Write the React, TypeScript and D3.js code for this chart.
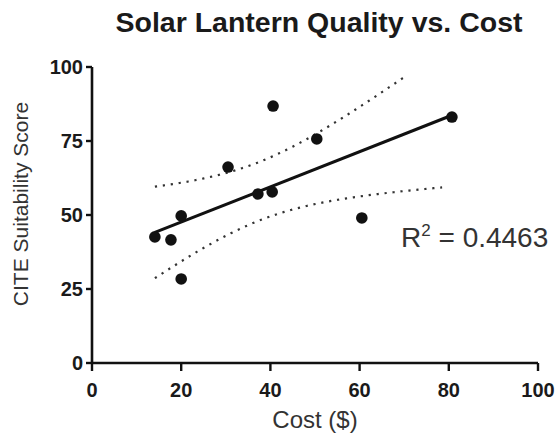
import React from "react";
import * as d3 from "d3";

// values
const cost = [14.1, 17.7, 20.0, 20.0, 30.5, 37.2, 40.4, 40.6, 50.4, 60.5, 80.7];
const score = [42.6, 41.6, 49.7, 28.4, 66.2, 57.1, 57.8, 86.8, 75.7, 49.0, 83.1];
const xTicks = [0, 20, 40, 60, 80, 100];
const yTicks = [0, 25, 50, 75, 100];
const r2Label = "0.4463";
// where each dotted confidence band stops in the picture
const upperBandEnd = 70.6;
const lowerBandEnd = 78.5;
const T_CRIT = 2.262; // t(0.975, df = 9)

const width = 558;
const height = 436;
const margin = { top: 67, right: 20, bottom: 73, left: 92 };
const font = "'Liberation Sans', Arial, sans-serif";

const App = () => {
  const x = d3.scaleLinear().domain([0, 100]).range([margin.left, width - margin.right]);
  const y = d3.scaleLinear().domain([0, 100]).range([height - margin.bottom, margin.top]);

  // least squares fit and 95% confidence band of the mean
  const n = cost.length;
  const mx = d3.mean(cost) as number;
  const my = d3.mean(score) as number;
  const sxx = d3.sum(cost, c => (c - mx) ** 2);
  const sxy = d3.sum(cost, (c, i) => (c - mx) * (score[i] - my));
  const slope = sxy / sxx;
  const intercept = my - slope * mx;
  const fit = (v: number) => intercept + slope * v;
  const sse = d3.sum(cost, (c, i) => (score[i] - fit(c)) ** 2);
  const s = Math.sqrt(sse / (n - 2));
  const half = (v: number) => T_CRIT * s * Math.sqrt(1 / n + (v - mx) ** 2 / sxx);

  const xMin = d3.min(cost) as number;
  const xMax = d3.max(cost) as number;
  const line = d3
    .line<number>()
    .x(v => x(v))
    .y(v => y(fit(v)));
  const upper = d3
    .line<number>()
    .x(v => x(v))
    .y(v => y(fit(v) + half(v)));
  const lower = d3
    .line<number>()
    .x(v => x(v))
    .y(v => y(fit(v) - half(v)));
  const upperXs = d3.range(xMin, upperBandEnd, 0.5).concat([upperBandEnd]);
  const lowerXs = d3.range(xMin, lowerBandEnd, 0.5).concat([lowerBandEnd]);

  const x0 = x(0);
  const y0 = y(0);

  return (
    <svg width={width} height={height} style={{ position: "absolute", left: 0, top: 0, background: "#fff" }}>
      <text x={319} y={32} textAnchor="middle" fontFamily={font} fontWeight="bold" fontSize={28.5} fill="#1a1a1a">
        Solar Lantern Quality vs. Cost
      </text>

      {/* confidence bands */}
      <path d={upper(upperXs) || ""} fill="none" stroke="#333" strokeWidth={2.2} strokeDasharray="2.2 5.8" />
      <path d={lower(lowerXs) || ""} fill="none" stroke="#333" strokeWidth={2.2} strokeDasharray="2.2 5.8" />

      {/* regression line */}
      <path d={line([xMin, xMax]) || ""} fill="none" stroke="#111" strokeWidth={3} />

      {cost.map((c, i) => (
        <circle key={i} cx={x(c)} cy={y(score[i])} r={5.8} fill="#111" />
      ))}

      {/* y axis */}
      <line x1={x0} x2={x0} y1={y(100)} y2={y0} stroke="#111" strokeWidth={2.6} />
      {yTicks.map(t => (
        <g key={t}>
          <line x1={x0 - 6} x2={x0} y1={y(t)} y2={y(t)} stroke="#111" strokeWidth={2.4} />
          <text x={x0 - 9} y={y(t)} dy="0.36em" textAnchor="end" fontFamily={font} fontWeight="bold" fontSize={20} fill="#1a1a1a">
            {t}
          </text>
        </g>
      ))}

      {/* x axis */}
      <line x1={x0} x2={x(100)} y1={y0} y2={y0} stroke="#111" strokeWidth={2.6} />
      {xTicks.map(t => (
        <g key={t}>
          <line x1={x(t)} x2={x(t)} y1={y0} y2={y0 + 8} stroke="#111" strokeWidth={2.4} />
          <text x={x(t)} y={397} textAnchor="middle" fontFamily={font} fontWeight="bold" fontSize={20} fill="#1a1a1a">
            {t}
          </text>
        </g>
      ))}

      <text x={315} y={428} textAnchor="middle" fontFamily={font} fontSize={24} fill="#333">
        Cost ($)
      </text>
      <text
        transform={`translate(28, ${204}) rotate(-90)`}
        textAnchor="middle"
        fontFamily={font}
        fontSize={21}
        fill="#333"
      >
        CITE Suitability Score
      </text>

      <text x={401} y={247} fontFamily={font} fontSize={28} fill="#333">
        R<tspan dy={-11} fontSize={17}>2</tspan>
        <tspan dy={11}> = {r2Label}</tspan>
      </text>
    </svg>
  );
};

export default App;
